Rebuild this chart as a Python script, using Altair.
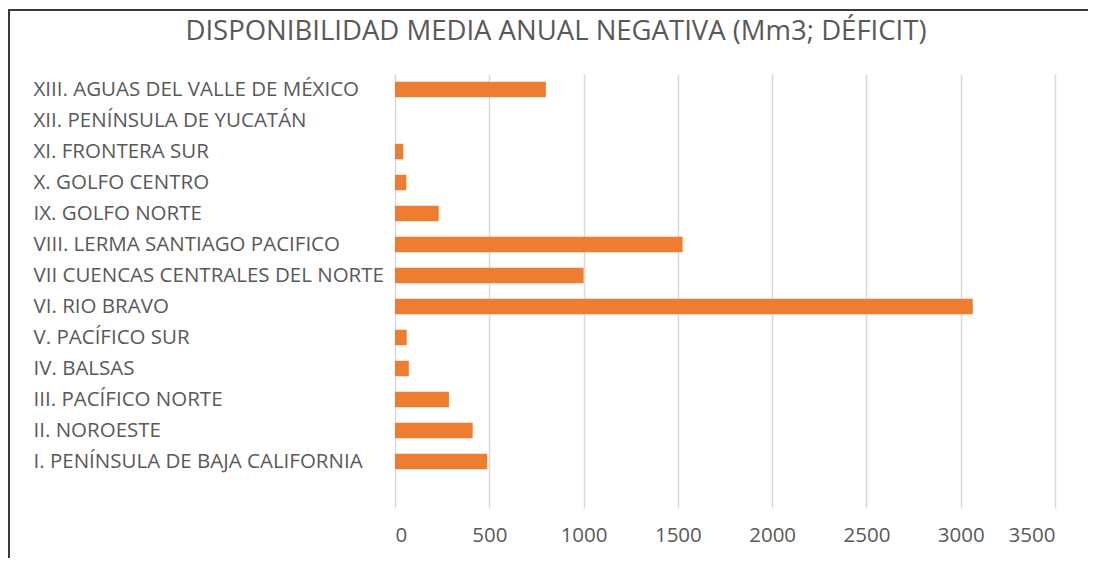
import altair as alt
import pandas as pd

categories = [
    "XIII. AGUAS DEL VALLE DE MÉXICO",
    "XII. PENÍNSULA DE YUCATÁN",
    "XI. FRONTERA SUR",
    "X. GOLFO CENTRO",
    "IX. GOLFO NORTE",
    "VIII. LERMA SANTIAGO PACIFICO",
    "VII CUENCAS CENTRALES DEL NORTE",
    "VI. RIO BRAVO",
    "V. PACÍFICO SUR",
    "IV. BALSAS",
    "III. PACÍFICO NORTE",
    "II. NOROESTE",
    "I. PENÍNSULA DE BAJA CALIFORNIA",
]
values = [800, 0, 44, 60, 232, 1525, 1000, 3064, 62, 73, 286, 412, 489]
x_ticks = [0, 500, 1000, 1500, 2000, 2500, 3000, 3500]

df = pd.DataFrame({"region": categories, "valor": values})
domain = categories + [" "]

FONT = "Open Sans"
GREY = "#595959"

bars = alt.Chart(df).mark_bar(color="#ED7D31").encode(
    x=alt.X(
        "valor:Q",
        scale=alt.Scale(domain=[0, 3500], nice=False),
        axis=alt.Axis(
            values=x_ticks,
            format="d",
            title=None,
            domain=False,
            ticks=False,
            grid=True,
            gridColor="#d9d9d9",
            gridWidth=1.5,
            labelColor=GREY,
            labelFont=FONT,
            labelFontSize=20.5,
            labelPadding=17,
        ),
    ),
    y=alt.Y(
        "region:N",
        scale=alt.Scale(domain=domain, paddingInner=0.5, paddingOuter=0.25),
        axis=alt.Axis(
            title=None,
            domain=False,
            ticks=False,
            grid=False,
            labelAlign="left",
            labelPadding=362,
            labelLimit=400,
            labelColor=GREY,
            labelFont=FONT,
            labelFontSize=20.5,
        ),
    ),
)

border = alt.Chart(alt.Data(values=[{}])).mark_rect(
    fill=None, stroke="#3a3a3a", strokeWidth=2
).encode(
    x=alt.value(-386), x2=alt.value(720), y=alt.value(-64), y2=alt.value(520)
)

chart = alt.layer(border, bars).properties(
    width=660,
    height=434,
    autosize=alt.AutoSizeParams(type="none"),
    padding={"left": 387, "top": 66, "right": 33, "bottom": 50},
    title=alt.TitleParams(
        "DISPONIBILIDAD MEDIA ANUAL NEGATIVA (Mm3; DÉFICIT)",
        font=FONT,
        fontSize=27.5,
        fontWeight="normal",
        color=GREY,
        anchor="middle",
        frame="group",
        dx=-169,
        dy=36,
        offset=0,
    ),
).configure_view(stroke=None)

chart.save("out.html", embed_options={"renderer": "svg", "actions": False})
